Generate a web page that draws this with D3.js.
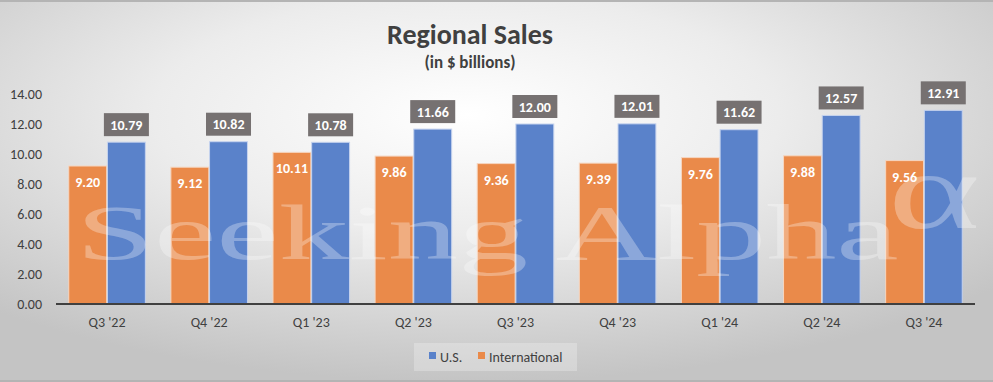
<!DOCTYPE html>
<html>
<head>
<meta charset="utf-8">
<script src="https://cdn.jsdelivr.net/npm/d3@7"></script>
<style>
  body { margin: 0; padding: 0; overflow: hidden; }
  svg { display: block; font-family: Carlito, "Open Sans", "Liberation Sans", sans-serif; }
</style>
</head>
<body>
<svg id="chart" width="993" height="382"></svg>
<script>
// data
const quarters = ["Q3 '22", "Q4 '22", "Q1 '23", "Q2 '23", "Q3 '23", "Q4 '23", "Q1 '24", "Q2 '24", "Q3 '24"]
const usSales = [10.79, 10.82, 10.78, 11.66, 12.00, 12.01, 11.62, 12.57, 12.91]
const intlSales = [9.20, 9.12, 10.11, 9.86, 9.36, 9.39, 9.76, 9.88, 9.56]
const yTicks = [0, 2, 4, 6, 8, 10, 12, 14]

const width = 993, height = 382
const margin = {top: 94, right: 18, bottom: 78, left: 56}
const fontStack = 'Carlito, "Open Sans", "Liberation Sans", sans-serif'

const svg = d3.select('#chart')

// background
const defs = svg.append('defs')
const grad = defs.append('radialGradient')
    .attr('id', 'bg')
    .attr('cx', '47%').attr('cy', '30%').attr('r', '70%')
grad.append('stop').attr('offset', '0%').attr('stop-color', '#ffffff')
grad.append('stop').attr('offset', '45%').attr('stop-color', '#ececec')
grad.append('stop').attr('offset', '100%').attr('stop-color', '#c4c4c4')

svg.append('rect').attr('width', width).attr('height', height).attr('fill', 'url(#bg)')
svg.append('rect').attr('width', width).attr('height', 2).attr('fill', '#b4b4b4')
svg.append('rect').attr('y', height - 2).attr('width', width).attr('height', 2).attr('fill', '#b4b4b4')

const x = d3.scaleBand()
    .domain(quarters)
    .range([margin.left, width - margin.right])
    .paddingInner(0.25)
    .paddingOuter(0.125)

const y = d3.scaleLinear()
    .domain([0, 14])
    .range([height - margin.bottom, margin.top])

// titles
svg.append('text')
    .attr('x', 470).attr('y', 44)
    .attr('text-anchor', 'middle')
    .attr('font-size', 28).attr('font-weight', 'bold')
    .attr('fill', '#404040')
    .text('Regional Sales')
svg.append('text')
    .attr('x', 470).attr('y', 68)
    .attr('text-anchor', 'middle')
    .attr('font-size', 17).attr('font-weight', 'bold')
    .attr('fill', '#404040')
    .text('(in $ billions)')

// y axis
const yAxis = d3.axisLeft(y).tickValues(yTicks).tickFormat(d3.format('.2f')).tickSize(0).tickPadding(14)
const gy = svg.append('g')
    .attr('transform', `translate(${margin.left},0)`)
    .call(yAxis)
gy.select('.domain').remove()
gy.selectAll('text').attr('font-size', 14).attr('fill', '#404040').attr('font-family', fontStack)

// bars
const sub = d3.scaleBand().domain(['intl', 'us']).range([0, x.bandwidth()]).paddingInner(0.02)

const groups = svg.append('g').selectAll('g')
    .data(quarters)
    .join('g')
    .attr('transform', d => `translate(${x(d)},0)`)

groups.append('rect')
    .attr('x', sub('intl'))
    .attr('y', (d, i) => y(intlSales[i]))
    .attr('width', sub.bandwidth())
    .attr('height', (d, i) => y(0) - y(intlSales[i]))
    .attr('fill', '#ea8a4a')
    .attr('stroke', '#f6d6c0').attr('stroke-width', 1)

groups.append('rect')
    .attr('x', sub('us'))
    .attr('y', (d, i) => y(usSales[i]))
    .attr('width', sub.bandwidth())
    .attr('height', (d, i) => y(0) - y(usSales[i]))
    .attr('fill', '#5a82ca')
    .attr('stroke', '#c6d3ee').attr('stroke-width', 1)

// watermark, drawn over the bars
const wm = svg.append('g').attr('fill', '#ffffff').attr('fill-opacity', 0.3)
    .attr('font-family', '"Liberation Serif", "DejaVu Serif", serif')
wm.append('text')
    .attr('transform', 'translate(76,259) scale(1.8,1)')
    .attr('font-size', 78)
    .text('Seeking Alpha')
wm.append('text')
    .attr('transform', 'translate(888,228) scale(1.6,1)')
    .attr('font-size', 110)
    .text('\u03B1')

// intl labels inside bars
groups.append('text')
    .attr('x', sub('intl') + sub.bandwidth() / 2)
    .attr('y', (d, i) => y(intlSales[i]) + 21)
    .attr('text-anchor', 'middle')
    .attr('font-size', 14).attr('font-weight', 'bold')
    .attr('fill', '#ffffff')
    .text((d, i) => intlSales[i].toFixed(2))

// us label boxes
const boxW = 45, boxH = 23
groups.append('rect')
    .attr('x', sub('us') + sub.bandwidth() / 2 - boxW / 2)
    .attr('y', (d, i) => y(usSales[i]) - 6 - boxH)
    .attr('width', boxW).attr('height', boxH)
    .attr('fill', '#767171')
groups.append('text')
    .attr('x', sub('us') + sub.bandwidth() / 2)
    .attr('y', (d, i) => y(usSales[i]) - 6 - boxH / 2 + 5)
    .attr('text-anchor', 'middle')
    .attr('font-size', 14).attr('font-weight', 'bold')
    .attr('fill', '#ffffff')
    .text((d, i) => usSales[i].toFixed(2))

// x axis
const xAxis = d3.axisBottom(x).tickSize(0).tickPadding(13)
const gx = svg.append('g')
    .attr('transform', `translate(0,${y(0)})`)
    .call(xAxis)
gx.select('.domain').attr('stroke', '#404040').attr('stroke-width', 2)
    .attr('d', `M${margin.left},0H${width - margin.right}`)
gx.selectAll('text').attr('font-size', 14).attr('fill', '#404040').attr('font-family', fontStack)

// legend
const legend = svg.append('g').attr('transform', 'translate(414,343)')
legend.append('rect').attr('width', 163).attr('height', 28).attr('fill', '#ffffff').attr('fill-opacity', 0.25)
const items = [{name: 'U.S.', color: '#5a82ca', x: 15}, {name: 'International', color: '#ea8a4a', x: 64}]
items.forEach(it => {
    legend.append('rect').attr('x', it.x).attr('y', 9).attr('width', 7).attr('height', 7).attr('fill', it.color)
    legend.append('text').attr('x', it.x + 11).attr('y', 18.5)
        .attr('font-size', 14).attr('fill', '#404040').text(it.name)
})
</script>
</body>
</html>
